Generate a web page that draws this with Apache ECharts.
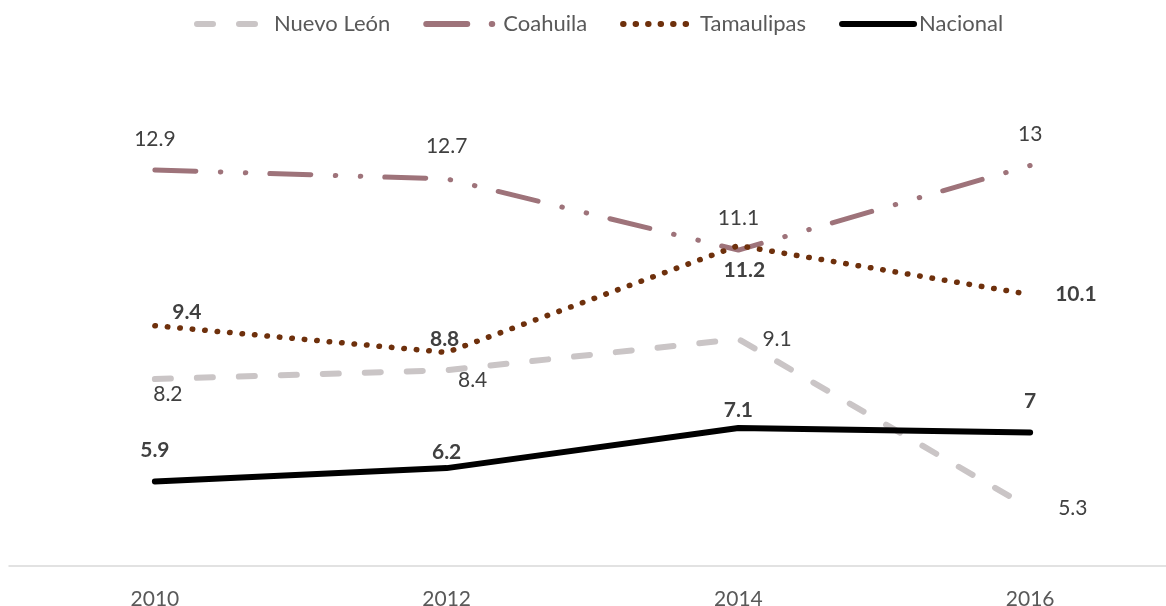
<!DOCTYPE html>
<html>
<head>
<meta charset="utf-8">
<script src="https://cdn.jsdelivr.net/npm/echarts@6/dist/echarts.min.js"></script>
<style>
    html, body { margin: 0; padding: 0; background: #fff; }
    #chartBox { width: 1166px; height: 606px; }
</style>
</head>
<body>
<div id="chartBox"></div>
<script>
// datos
const years = ['2010', '2012', '2014', '2016'];
const nuevoLeon = [8.2, 8.4, 9.1, 5.3];
const coahuila = [12.9, 12.7, 11.1, 13];
const tamaulipas = [9.4, 8.8, 11.2, 10.1];
const nacional = [5.9, 6.2, 7.1, 7];

// posición de cada etiqueta (solo estilo)
const nlLabelPos = [
    { position: 'bottom', distance: 5, offset: [13, 0] },
    { position: 'bottom', distance: 0, offset: [26, 0] },
    { position: 'right', distance: 24 },
    { position: 'right', distance: 28 }
];
const coLabelPos = [
    { position: 'top', distance: 20 },
    { position: 'top', distance: 22 },
    { position: 'top', distance: 21 },
    { position: 'top', distance: 21 }
];
const taLabelPos = [
    { position: 'top', distance: 3, offset: [32, 0] },
    { position: 'top', distance: 3, offset: [-2, 0] },
    { position: 'bottom', distance: 14, offset: [6, 0] },
    { position: 'right', distance: 25 }
];
const naLabelPos = [
    { position: 'top', distance: 21 },
    { position: 'top', distance: 5 },
    { position: 'top', distance: 7 },
    { position: 'top', distance: 21 }
];

const font = 'Lato, "Open Sans", sans-serif';

function withLabels(values, pos) {
    return values.map((v, i) => ({ value: v, label: pos[i] }));
}

function lineSeries(name, values, pos, color, width, dash, bold) {
    return {
        name: name,
        type: 'line',
        symbol: 'circle',
        symbolSize: 0,
        itemStyle: { color: color },
        lineStyle: {
            color: color,
            width: width,
            type: dash,
            cap: 'round',
            join: 'round'
        },
        label: {
            show: true,
            color: '#404040',
            fontFamily: font,
            fontSize: 21,
            fontWeight: bold ? 'bold' : 'normal'
        },
        emphasis: { disabled: true },
        data: withLabels(values, pos)
    };
}

const chart = echarts.init(document.getElementById('chartBox'));
chart.setOption({
    animation: false,
    legend: {
        top: 8,
        left: 189,
        itemWidth: 72,
        itemHeight: 14,
        itemGap: 33,
        itemStyle: { opacity: 0 },
        lineStyle: { width: 6, cap: 'round' },
        textStyle: {
            color: '#595959',
            fontFamily: font,
            fontSize: 22
        }
    },
    grid: {
        left: 9,
        width: 1167,
        top: 121,
        bottom: 40,
        outerBoundsMode: 'none',
        containLabel: false
    },
    xAxis: {
        type: 'category',
        data: years,
        boundaryGap: true,
        axisLine: { show: true, lineStyle: { color: '#D9D9D9', width: 1.5 } },
        axisTick: { show: false },
        axisLabel: {
            color: '#595959',
            fontFamily: font,
            fontSize: 21,
            margin: 23
        },
        splitLine: { show: false }
    },
    yAxis: {
        type: 'value',
        min: 4,
        max: 14,
        show: false,
        splitLine: { show: false }
    },
    series: [
        lineSeries('Nuevo León', nuevoLeon, nlLabelPos, '#CAC5C6', 6, [16, 26], false),
        lineSeries('Coahuila', coahuila, coLabelPos, '#9E737A', 5, [41, 24.5, 0.5, 24.5, 0.5, 24], false),
        lineSeries('Tamaulipas', tamaulipas, taLabelPos, '#6E300C', 5.5, [0.5, 12], true),
        lineSeries('Nacional', nacional, naLabelPos, '#000000', 6, 'solid', true)
    ]
});
</script>
</body>
</html>
